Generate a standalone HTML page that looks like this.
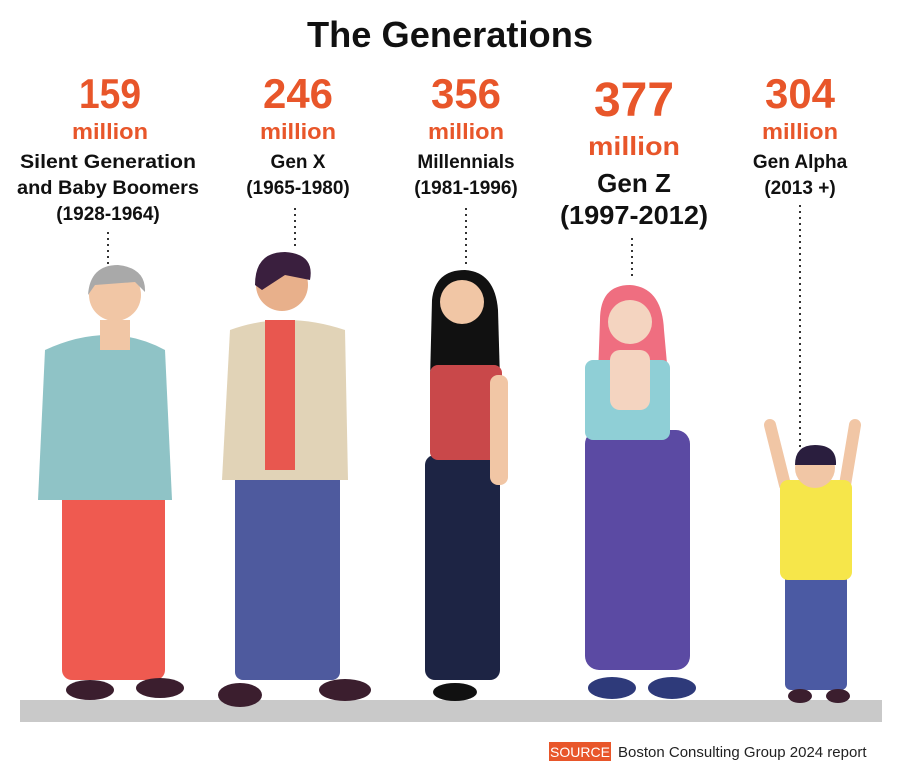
<!DOCTYPE html>
<html><head><meta charset="utf-8"><style>
html,body{margin:0;padding:0;background:#fff;}
body{width:900px;height:775px;overflow:hidden;font-family:"Liberation Sans",sans-serif;}
</style></head><body>
<svg width="900" height="775" viewBox="0 0 900 775" xmlns="http://www.w3.org/2000/svg" font-family="Liberation Sans, sans-serif">
<text x="450" y="47" text-anchor="middle" font-size="36" font-weight="bold" fill="#111" textLength="286" lengthAdjust="spacingAndGlyphs">The Generations</text>
<g fill="#e8562a" font-weight="bold" text-anchor="middle">
<text x="110" y="108" font-size="42" textLength="62" lengthAdjust="spacingAndGlyphs">159</text>
<text x="110" y="139" font-size="22" textLength="76" lengthAdjust="spacingAndGlyphs">million</text>
<text x="298" y="108" font-size="42" textLength="70" lengthAdjust="spacingAndGlyphs">246</text>
<text x="298" y="139" font-size="22" textLength="76" lengthAdjust="spacingAndGlyphs">million</text>
<text x="466" y="108" font-size="42" textLength="70" lengthAdjust="spacingAndGlyphs">356</text>
<text x="466" y="139" font-size="22" textLength="76" lengthAdjust="spacingAndGlyphs">million</text>
<text x="634" y="116" font-size="48" textLength="80" lengthAdjust="spacingAndGlyphs">377</text>
<text x="634" y="155" font-size="26" textLength="92" lengthAdjust="spacingAndGlyphs">million</text>
<text x="800" y="108" font-size="42" textLength="70" lengthAdjust="spacingAndGlyphs">304</text>
<text x="800" y="139" font-size="22" textLength="76" lengthAdjust="spacingAndGlyphs">million</text>
</g>
<g fill="#111" text-anchor="middle" font-size="19" font-weight="bold">
<text x="108" y="168" textLength="176" lengthAdjust="spacingAndGlyphs">Silent Generation</text>
<text x="108" y="194" textLength="182" lengthAdjust="spacingAndGlyphs">and Baby Boomers</text>
<text x="108" y="220">(1928-1964)</text>
<text x="298" y="168">Gen X</text>
<text x="298" y="194">(1965-1980)</text>
<text x="466" y="168">Millennials</text>
<text x="466" y="194">(1981-1996)</text>
<text x="634" y="192" font-size="26">Gen Z</text>
<text x="634" y="224" font-size="26" textLength="148" lengthAdjust="spacingAndGlyphs">(1997-2012)</text>
<text x="800" y="168">Gen Alpha</text>
<text x="800" y="194">(2013 +)</text>
</g>
<g stroke="#333" stroke-width="2" stroke-dasharray="2,4">
<line x1="108" y1="232" x2="108" y2="265"/>
<line x1="295" y1="208" x2="295" y2="250"/>
<line x1="466" y1="208" x2="466" y2="265"/>
<line x1="632" y1="238" x2="632" y2="280"/>
<line x1="800" y1="205" x2="800" y2="450"/>
</g>
<rect x="20" y="700" width="862" height="22" fill="#c9c9c9"/>
<rect x="62" y="490" width="103" height="190" rx="10" fill="#ef5a50"/>
<path d="M45 350 Q110 320 165 350 L172 500 L38 500 Z" fill="#8fc3c6"/>
<rect x="100" y="320" width="30" height="30" fill="#f1c6a5"/>
<circle cx="115" cy="295" r="26" fill="#f1c6a5"/>
<path d="M88 295 Q90 265 118 265 Q146 268 145 292 L135 282 L95 285 Z" fill="#a9a9a9"/>
<ellipse cx="90" cy="690" rx="24" ry="10" fill="#3b1e2e"/>
<ellipse cx="160" cy="688" rx="24" ry="10" fill="#3b1e2e"/>
<rect x="235" y="470" width="105" height="210" rx="8" fill="#4e5a9e"/>
<path d="M230 330 Q285 310 345 330 L348 480 L222 480 Z" fill="#e1d3b7"/>
<rect x="265" y="320" width="30" height="150" fill="#e8574f"/>
<circle cx="282" cy="285" r="26" fill="#e8b08b"/>
<path d="M255 285 Q255 252 285 252 Q315 254 310 280 L285 275 L262 290 Z" fill="#3a1f3e"/>
<ellipse cx="240" cy="695" rx="22" ry="12" fill="#3b1e2e"/>
<ellipse cx="345" cy="690" rx="26" ry="11" fill="#3b1e2e"/>
<path d="M432 300 Q435 270 465 270 Q495 272 498 310 L500 380 L430 380 Z" fill="#111"/>
<circle cx="462" cy="302" r="22" fill="#f1c6a5"/>
<rect x="425" y="455" width="75" height="225" rx="10" fill="#1d2444"/>
<rect x="430" y="365" width="72" height="95" rx="8" fill="#c9484a"/>
<rect x="490" y="375" width="18" height="110" rx="8" fill="#f1c6a5"/>
<ellipse cx="455" cy="692" rx="22" ry="9" fill="#111"/>
<path d="M600 320 Q600 285 630 285 Q662 287 664 330 L668 375 L598 375 Z" fill="#ef6e80"/>
<circle cx="630" cy="322" r="22" fill="#f4d4c0"/>
<rect x="585" y="430" width="105" height="240" rx="14" fill="#5b4aa3"/>
<rect x="585" y="360" width="85" height="80" rx="8" fill="#8fcfd6"/>
<rect x="610" y="350" width="40" height="60" rx="10" fill="#f4d4c0"/>
<ellipse cx="612" cy="688" rx="24" ry="11" fill="#2e3a7a"/>
<ellipse cx="672" cy="688" rx="24" ry="11" fill="#2e3a7a"/>
<path d="M770 425 L785 485 M855 425 L845 485" stroke="#f1c6a5" stroke-width="12" stroke-linecap="round"/>
<rect x="785" y="575" width="62" height="115" rx="6" fill="#4b5aa3"/>
<rect x="780" y="480" width="72" height="100" rx="8" fill="#f6e64a"/>
<circle cx="815" cy="468" r="20" fill="#f1c6a5"/>
<path d="M795 465 Q795 445 815 445 Q837 445 836 465 Z" fill="#2a1e3e"/>
<ellipse cx="800" cy="696" rx="12" ry="7" fill="#3b1e2e"/>
<ellipse cx="838" cy="696" rx="12" ry="7" fill="#3b1e2e"/>
<rect x="549" y="742" width="62" height="19" fill="#e8562a"/>
<text x="580" y="757" text-anchor="middle" font-size="14" fill="#fff">SOURCE</text>
<text x="618" y="757" font-size="15" fill="#222">Boston Consulting Group 2024 report</text>
</svg>
</body></html>
